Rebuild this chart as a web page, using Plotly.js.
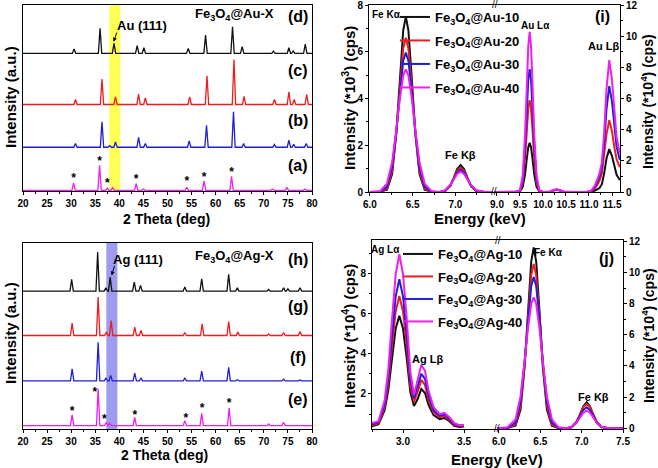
<!DOCTYPE html>
<html><head><meta charset="utf-8">
<script src="https://cdn.plot.ly/plotly-3.0.1.min.js"></script>
<style>html,body{margin:0;padding:0;background:#fff}#c{width:658px;height:468px}</style>
</head><body><div id="c"></div>
<script>
// ---------- XRD, Fe3O4@Au-X : peak positions (2θ, deg) and peak heights (a.u.) ----------
const auA_pos = [30.5, 35.9, 37.5, 38.6, 43.5, 45.0, 54.0, 57.6, 63.3, 71.8, 74.8, 78.5];
const auA_int = [22, 75, 7, 8, 20, 4, 9, 28, 42, 4, 9, 4];
const auB_pos = [30.9, 36.4, 38.0, 39.2, 44.0, 45.4, 54.5, 58.1, 63.7, 65.8, 72.2, 75.2, 76.2, 78.8];
const auB_int = [11, 76, 5, 16, 30, 11, 19, 66, 106, 11, 8, 21, 9, 11];
const auC_pos = [30.9, 36.4, 39.2, 44.0, 45.4, 54.6, 58.2, 63.8, 65.9, 72.2, 75.2, 76.3, 78.9];
const auC_int = [15, 76, 23, 31, 20, 23, 86, 135, 24, 15, 38, 15, 30];
const auD_pos = [30.6, 36.0, 38.9, 43.7, 45.1, 54.3, 57.9, 63.5, 65.5, 72.0, 75.2, 76.1, 78.6];
const auD_int = [13, 75, 30, 23, 17, 15, 55, 80, 20, 7, 17, 7, 28];
const auStar_x = [30.5, 35.9, 37.5, 43.5, 54.0, 57.6, 63.3];
const auStar_y = [36, 86, 21, 33, 26, 39, 53];

// ---------- XRD, Fe3O4@Ag-X ----------
const agE_pos = [30.2, 35.6, 37.3, 38.0, 43.2, 53.6, 57.1, 62.8, 71.0, 74.1];
const agE_int = [32, 110, 10, 7, 25, 15, 37, 53, 5, 10];
const agF_pos = [30.2, 35.6, 37.2, 38.2, 43.2, 44.5, 53.6, 57.1, 62.7, 64.5, 74.1, 77.5];
const agF_int = [36, 116, 8, 16, 23, 8, 8, 29, 41, 4, 5, 3];
const agG_pos = [30.2, 35.6, 37.3, 38.3, 43.2, 44.5, 53.6, 57.2, 62.7, 64.6, 71.0, 74.1, 77.5];
const agG_int = [37, 115, 10, 45, 25, 15, 9, 35, 42, 10, 5, 9, 12];
const agH_pos = [30.1, 35.5, 37.2, 38.1, 43.1, 44.4, 53.6, 57.1, 62.7, 64.5, 71.0, 74.1, 75.0, 77.5];
const agH_int = [35, 117, 10, 42, 27, 17, 12, 37, 50, 10, 5, 10, 7, 10];
const agStar_x = [30.2, 34.9, 36.9, 43.2, 53.8, 57.2, 62.8];
const agStar_y = [52, 109, 26, 39, 31, 59, 74];

// ---------- EDS, Fe3O4@Au-X : Fe region (*10^3 cps) ----------
const auFe_E  = [6.0, 6.12, 6.2, 6.26, 6.31, 6.35, 6.39, 6.42, 6.45, 6.49, 6.53, 6.58, 6.64, 6.72, 6.82, 6.88, 6.94, 6.98, 7.02, 7.06, 7.10, 7.14, 7.18, 7.24, 7.33, 7.43];
const auFe_10 = [0,0.01,0.10,0.77,2.56,4.85,6.92,7.5,6.92,4.85,2.56,0.77,0.10,0.01,0, 0.04,0.26,0.60,0.98,1.15,0.98,0.60,0.26,0.04,0,0];
const auFe_20 = [0,0.01,0.15,0.89,2.57,4.50,6.15,6.6,6.15,4.50,2.57,0.89,0.15,0.01,0, 0.06,0.29,0.59,0.90,1.03,0.90,0.59,0.29,0.06,0,0];
const auFe_30 = [0,0.01,0.23,1.06,2.64,4.29,5.62,5.97,5.62,4.29,2.64,1.06,0.23,0.01,0, 0.07,0.29,0.56,0.83,0.95,0.83,0.56,0.29,0.07,0.01,0];
const auFe_40 = [0,0.04,0.36,1.27,2.69,4.0,4.99,5.25,4.99,4.0,2.69,1.27,0.36,0.04,0, 0.08,0.30,0.54,0.77,0.87,0.77,0.54,0.30,0.08,0.01,0];
// Au region (*10^4 cps)
const auAu_E  = [8.94, 9.2, 9.4, 9.5, 9.56, 9.61, 9.65, 9.68, 9.71, 9.74, 9.77, 9.81, 9.86, 9.92, 10.0, 10.15, 10.25, 10.3, 10.35, 10.45, 10.7, 10.95, 11.05, 11.12, 11.18, 11.23, 11.28, 11.33, 11.38, 11.44, 11.5, 11.55, 11.6, 11.67];
const auAu_10 = [0,0,0, 0.03,0.32,1.14,2.19,2.88,3.16,2.88,2.19,1.14,0.32,0.03,0, 0.02,0.12,0.15,0.11,0.02, 0, 0,0.02,0.08,0.15,0.25,0.5,1.2,2.15,2.75,2.3,1.6,1.1,0.77];
const auAu_20 = [0,0,0, 0.06,0.60,2.12,4.09,5.38,5.9,5.38,4.09,2.12,0.60,0.06,0, 0.02,0.12,0.15,0.11,0.02, 0, 0,0.05,0.2,0.45,0.75,1.2,2.3,3.7,4.61,3.9,2.9,2.1,1.6];
const auAu_30 = [0,0,0, 0.09,0.80,2.84,5.46,7.19,7.88,7.19,5.46,2.84,0.80,0.09,0, 0.02,0.13,0.16,0.12,0.02, 0, 0,0.08,0.3,0.65,1.0,1.6,3.1,5.3,6.79,5.8,4.2,2.9,2.05];
const auAu_40 = [0,0,0, 0.11,1.04,3.70,7.12,9.37,10.27,9.37,7.12,3.70,1.04,0.11,0, 0.03,0.14,0.17,0.13,0.03, 0, 0,0.1,0.38,0.8,1.2,1.9,3.8,6.6,8.46,7.2,5.2,3.5,2.48];

// ---------- EDS, Fe3O4@Ag-X : Ag region (*10^4 cps) ----------
const agAg_E  = [2.746, 2.8, 2.85, 2.88, 2.91, 2.94, 2.97, 3.0, 3.03, 3.06, 3.09, 3.12, 3.15, 3.18, 3.21, 3.25, 3.3, 3.34, 3.38, 3.42, 3.46, 3.5];
const agAg_10 = [0.40,0.50,1.2,2.2,3.75,5.25,5.88,5.25,3.8,2.1,1.4,1.75,2.25,2.05,1.45,0.95,0.75,0.81,0.65,0.42,0.36,0.38];
const agAg_20 = [0.45,0.55,1.35,2.55,4.4,6.1,6.87,6.1,4.45,2.4,1.62,2.1,2.7,2.45,1.7,1.1,0.85,0.9,0.72,0.46,0.4,0.42];
const agAg_30 = [0.5,0.6,1.5,2.85,4.9,6.85,7.7,6.85,5.0,2.7,1.79,2.35,3.0,2.75,1.9,1.2,0.92,0.98,0.78,0.5,0.43,0.44];
const agAg_40 = [0.55,0.65,1.7,3.25,5.7,7.95,8.94,7.95,5.8,3.1,1.95,2.65,3.44,3.15,2.15,1.35,1.0,1.06,0.85,0.55,0.46,0.46];
// Fe region (*10^4 cps)
const agFe_E  = [5.976, 6.1, 6.2, 6.26, 6.31, 6.35, 6.39, 6.42, 6.45, 6.49, 6.53, 6.58, 6.64, 6.72, 6.82, 6.88, 6.94, 6.98, 7.02, 7.06, 7.10, 7.14, 7.18, 7.24, 7.33, 7.5];
const agFe_10 = [0,0.02,0.16,1.19,3.96,7.5,10.7,11.6,10.7,7.5,3.96,1.19,0.16,0.02,0, 0.06,0.38,0.87,1.42,1.67,1.42,0.87,0.38,0.06,0,0];
const agFe_20 = [0,0.01,0.24,1.42,4.10,7.2,9.83,10.55,9.83,7.2,4.10,1.42,0.24,0.01,0, 0.09,0.44,0.9,1.37,1.56,1.37,0.9,0.44,0.09,0,0];
const agFe_30 = [0,0.02,0.37,1.72,4.28,6.96,9.13,9.7,9.13,6.96,4.28,1.72,0.37,0.02,0, 0.09,0.41,0.8,1.18,1.35,1.18,0.8,0.41,0.09,0.01,0];
const agFe_40 = [0,0.06,0.57,2.03,4.30,6.40,7.99,8.4,7.99,6.40,4.30,2.03,0.57,0.06,0, 0.1,0.38,0.7,1.0,1.13,1.0,0.7,0.38,0.1,0.01,0];

const auNames = ['Fe<sub>3</sub>O<sub>4</sub>@Au-10','Fe<sub>3</sub>O<sub>4</sub>@Au-20','Fe<sub>3</sub>O<sub>4</sub>@Au-30','Fe<sub>3</sub>O<sub>4</sub>@Au-40'];
const agNames = ['Fe<sub>3</sub>O<sub>4</sub>@Ag-10','Fe<sub>3</sub>O<sub>4</sub>@Ag-20','Fe<sub>3</sub>O<sub>4</sub>@Ag-30','Fe<sub>3</sub>O<sub>4</sub>@Ag-40'];

// ---------- styling / layout ----------
const FONT = 'Liberation Sans, Arial, sans-serif';
const COLORS = ['#111111', '#ee1d1d', '#1f1fd6', '#f01ef0'];
const W = 658, H = 468;
const px = v => v / W, py = v => 1 - v / H;
const xrdOffAu = [2, 131, 259, 412];
const xrdOffAg = [10, 144, 280, 413];
const HW = 0.35;

function pattern(pos, inten, off) {
  const x = [20], y = [off];
  pos.forEach((p, i) => { x.push(p - HW, p, p + HW); y.push(off, off + inten[i], off); });
  x.push(80); y.push(off);
  return {x, y};
}

const traces = [];
[[auA_pos, auA_int], [auB_pos, auB_int], [auC_pos, auC_int], [auD_pos, auD_int]].forEach((d, i) => {
  const p = pattern(d[0], d[1], xrdOffAu[i]);
  traces.push({x: p.x, y: p.y, xaxis: 'x', yaxis: 'y', mode: 'lines', showlegend: false,
    line: {color: COLORS[3 - i], width: 1.3}, hoverinfo: 'skip'});
});
[[agE_pos, agE_int], [agF_pos, agF_int], [agG_pos, agG_int], [agH_pos, agH_int]].forEach((d, i) => {
  const p = pattern(d[0], d[1], xrdOffAg[i]);
  traces.push({x: p.x, y: p.y, xaxis: 'x2', yaxis: 'y2', mode: 'lines', showlegend: false,
    line: {color: COLORS[3 - i], width: 1.3}, hoverinfo: 'skip'});
});
const starFont = {family: FONT, size: 12, color: '#000', weight: 'bold'};
traces.push({x: auStar_x, y: auStar_y, xaxis: 'x', yaxis: 'y', mode: 'text', text: auStar_x.map(() => '*'),
  textfont: starFont, showlegend: false, hoverinfo: 'skip'});
traces.push({x: agStar_x, y: agStar_y, xaxis: 'x2', yaxis: 'y2', mode: 'text', text: agStar_x.map(() => '*'),
  textfont: starFont, showlegend: false, hoverinfo: 'skip'});

const auFeY = [auFe_10, auFe_20, auFe_30, auFe_40];
const auAuY = [auAu_10, auAu_20, auAu_30, auAu_40];
for (let i = 0; i < 4; i++) {
  traces.push({x: auFe_E, y: auFeY[i], xaxis: 'x3', yaxis: 'y3', mode: 'lines', name: auNames[i],
    legend: 'legend', legendgroup: 'au' + i, line: {color: COLORS[i], width: 2}, hoverinfo: 'skip'});
  traces.push({x: auAu_E, y: auAuY[i], xaxis: 'x4', yaxis: 'y4', mode: 'lines', showlegend: false,
    legendgroup: 'au' + i, line: {color: COLORS[i], width: 2}, hoverinfo: 'skip'});
}
const agAgY = [agAg_10, agAg_20, agAg_30, agAg_40];
const agFeY = [agFe_10, agFe_20, agFe_30, agFe_40];
for (let i = 0; i < 4; i++) {
  traces.push({x: agAg_E, y: agAgY[i], xaxis: 'x5', yaxis: 'y5', mode: 'lines', name: agNames[i],
    legend: 'legend2', legendgroup: 'ag' + i, line: {color: COLORS[i], width: 2}, hoverinfo: 'skip'});
  traces.push({x: agFe_E, y: agFeY[i], xaxis: 'x6', yaxis: 'y6', mode: 'lines', showlegend: false,
    legendgroup: 'ag' + i, line: {color: COLORS[i], width: 2}, hoverinfo: 'skip'});
}

const tickFont = {family: FONT, size: 10, color: '#000', weight: 'bold'};
const base = {showline: true, linecolor: '#000', linewidth: 1, ticks: 'outside', ticklen: 3, tickwidth: 1, tickangle: 0,
  tickcolor: '#000', showgrid: false, zeroline: false, tickfont: tickFont, fixedrange: true};
const minor = (vals) => ({tickmode: 'array', tickvals: vals, ticks: 'outside', ticklen: 2, tickcolor: '#000', showgrid: false});
const rng = (a, b, s) => { const r = []; for (let v = a; v <= b + 1e-9; v += s) r.push(+v.toFixed(3)); return r; };

const dA = {x: [px(23), px(312)], y: [py(191), py(5)]};
const dC = {x: [px(23), px(312)], y: [py(429), py(243)]};
const dB1 = [px(369), px(494)], dB2 = [px(494), px(620)], dBy = [py(192), py(5)];
const dD1 = [px(372), px(497)], dD2 = [px(497), px(623)], dDy = [py(429), py(240)];

const xrdTicks = rng(20, 80, 5);
const layout = {
  width: W, height: H, margin: {l: 0, r: 0, t: 0, b: 0}, paper_bgcolor: '#fff', plot_bgcolor: 'rgba(0,0,0,0)',
  font: {family: FONT, color: '#000'},
  xaxis: {...base, domain: dA.x, anchor: 'y', range: [20, 80], tickvals: xrdTicks, mirror: true, minor: minor(rng(22.5, 77.5, 5))},
  yaxis: {...base, domain: dA.y, anchor: 'x', range: [0, 557], showticklabels: false, ticks: '', mirror: true},
  xaxis2: {...base, domain: dC.x, anchor: 'y2', range: [20, 80], tickvals: xrdTicks, mirror: true, minor: minor(rng(22.5, 77.5, 5))},
  yaxis2: {...base, domain: dC.y, anchor: 'x2', range: [0, 557], showticklabels: false, ticks: '', mirror: true},
  xaxis3: {...base, domain: dB1, anchor: 'y3', range: [5.99, 7.45], tickvals: [6, 6.5, 7], ticktext: ['6.0', '6.5', '7.0'], mirror: true, minor: minor([6.25, 6.75, 7.25])},
  yaxis3: {...base, domain: dBy, anchor: 'x3', range: [0, 8], tickvals: [0, 2, 4, 6, 8], minor: minor([1, 3, 5, 7])},
  xaxis4: {...base, domain: dB2, anchor: 'y4', range: [8.935, 11.674], tickvals: [9, 9.5, 10, 10.5, 11, 11.5],
    ticktext: ['9.0', '9.5', '10.0', '10.5', '11.0', '11.5'], mirror: true, minor: minor([9.25, 9.75, 10.25, 10.75, 11.25])},
  yaxis4: {...base, domain: dBy, anchor: 'x4', side: 'right', range: [0, 12], tickvals: rng(0, 12, 2), minor: minor(rng(1, 11, 2))},
  xaxis5: {...base, domain: dD1, anchor: 'y5', range: [2.746, 3.77], tickvals: [3.0, 3.5], ticktext: ['3.0', '3.5'], mirror: true, minor: minor([2.75, 3.25])},
  yaxis5: {...base, domain: dDy, anchor: 'x5', range: [0.26, 9.65], tickvals: [2, 4, 6, 8], minor: minor([1, 3, 5, 7, 9])},
  xaxis6: {...base, domain: dD2, anchor: 'y6', range: [5.976, 7.5], tickvals: [6, 6.5, 7, 7.5], ticktext: ['6.0', '6.5', '7.0', '7.5'], mirror: true, minor: minor([6.25, 6.75, 7.25])},
  yaxis6: {...base, domain: dDy, anchor: 'x6', side: 'right', range: [-0.045, 12.08], tickvals: rng(0, 12, 2), minor: minor(rng(1, 11, 2))},
  legend: {x: px(395), y: py(2), xanchor: 'left', yanchor: 'top', bgcolor: 'rgba(0,0,0,0)', tracegroupgap: 3.6,
    font: {family: FONT, size: 13, color: '#000', weight: 'bold'}},
  legend2: {x: px(398), y: py(239), xanchor: 'left', yanchor: 'top', bgcolor: 'rgba(0,0,0,0)', tracegroupgap: 2.6,
    font: {family: FONT, size: 13, color: '#000', weight: 'bold'}},
  shapes: [
    {type: 'rect', xref: 'x', yref: 'y domain', x0: 37.9, x1: 40.2, y0: 0, y1: 1, fillcolor: '#ffff55', line: {width: 0}, layer: 'below'},
    {type: 'rect', xref: 'x2', yref: 'y2 domain', x0: 37.3, x1: 39.6, y0: 0, y1: 1, fillcolor: '#9d9def', line: {width: 0}, layer: 'below'}
  ],
  annotations: []
};

const A = layout.annotations;
const txt = (text, x, y, size, extra) => A.push(Object.assign({text, x: px(x), y: py(y), xref: 'paper', yref: 'paper',
  showarrow: false, xanchor: 'center', yanchor: 'middle', font: {family: FONT, size, color: '#000', weight: 'bold'}}, extra || {}));
txt('2 Theta (deg)', 166, 219, 14);
txt('2 Theta (deg)', 164, 455, 14);
txt('Intensity (a.u.)', 10, 97, 15, {textangle: -90});
txt('Intensity (a.u.)', 10, 333, 15, {textangle: -90});
txt('Energy (keV)', 480, 218, 15);
txt('Energy (keV)', 497, 459, 15);
txt('Intensity (*10<sup>3</sup>) (cps)', 348, 98, 15, {textangle: -90});
txt('Intensity (*10<sup>4</sup>) (cps)', 647, 102, 14, {textangle: -90});
txt('Intensity (*10<sup>4</sup>) (cps)', 348, 336, 15, {textangle: -90});
txt('Intensity (*10<sup>4</sup>) (cps)', 648, 336, 14, {textangle: -90});
txt('(d)', 298, 17, 16); txt('(c)', 298, 70, 16); txt('(b)', 298, 121, 16); txt('(a)', 298, 165, 16);
txt('Fe<sub>3</sub>O<sub>4</sub>@Au-X', 234, 15, 13);
txt('Au (111)', 142, 25, 13);
txt('(h)', 298, 259, 16); txt('(g)', 298, 306, 16); txt('(f)', 298, 357, 16); txt('(e)', 298, 399, 16);
txt('Fe<sub>3</sub>O<sub>4</sub>@Ag-X', 234, 256, 13);
txt('Ag (111)', 138, 259, 13);
A.push({text: '', xref: 'x', yref: 'y', axref: 'x', ayref: 'y', x: 38.8, y: 447, ax: 39.6, ay: 479,
  showarrow: true, arrowhead: 2, arrowsize: 0.8, arrowwidth: 1, arrowcolor: '#000'});
A.push({text: '', xref: 'x2', yref: 'y2', axref: 'x2', ayref: 'y2', x: 38.4, y: 460, ax: 39.1, ay: 493,
  showarrow: true, arrowhead: 2, arrowsize: 0.8, arrowwidth: 1, arrowcolor: '#000'});
txt('Fe Kα', 386, 15, 10); txt('Fe Kβ', 460, 155, 11); txt('Au Lα', 535, 25, 10); txt('Au Lβ', 603, 46, 11);
txt('(i)', 602, 17, 16);
txt('Ag Lα', 385, 249, 10); txt('Ag Lβ', 427, 359, 11); txt('Fe Kα', 548, 253, 10); txt('Fe Kβ', 593, 397, 11);
txt('(j)', 606, 258, 16);
const brk = {font: {family: FONT, size: 10, color: '#000'}};
txt('//', 495, 5, 10, brk); txt('//', 494, 191, 11, brk);
txt('//', 498, 241, 10, brk); txt('//', 497, 428, 11, brk);

Plotly.newPlot('c', traces, layout, {staticPlot: true, displayModeBar: false});
</script></body></html>
